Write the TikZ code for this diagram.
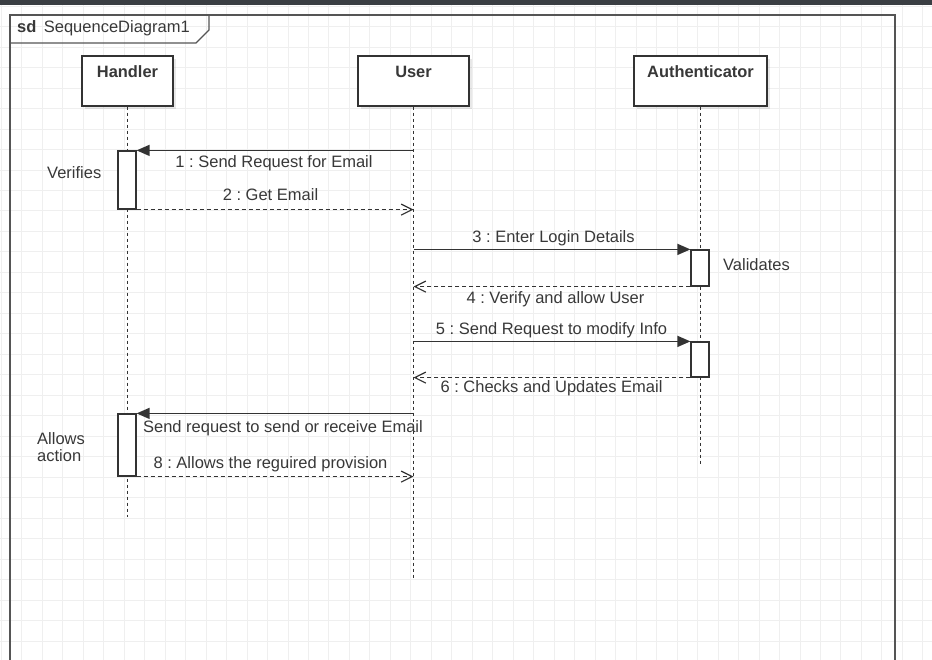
\documentclass[tikz,border=0pt]{standalone}
\usepackage{fontspec}
\setmainfont{Liberation Sans}
\usetikzlibrary{arrows.meta,shadows}
\definecolor{ink}{HTML}{333333}
\definecolor{txt}{HTML}{383838}
\definecolor{gridc}{HTML}{EFEFEF}
\definecolor{band}{HTML}{3A3E43}
\definecolor{framec}{HTML}{555555}
\frenchspacing
\begin{document}
\begin{tikzpicture}[x=1pt,y=-1pt,
  every node/.style={text=txt, font=\fontsize{16.5}{16.5}\selectfont},
  lifebox/.style={draw=ink, fill=white, line width=1.2pt, minimum width=#1, minimum height=50pt, inner sep=0pt,
    drop shadow={shadow xshift=3pt, shadow yshift=-3pt, opacity=0.18}},
  boxlabel/.style={anchor=base, font=\fontsize{16.4}{16.5}\selectfont\bfseries, inner sep=0pt},
  lifeline/.style={draw=ink, line width=1.3pt, dash pattern=on 3pt off 3pt},
  actbox/.style={draw=ink, fill=white, line width=1.2pt, minimum width=18pt, minimum height=#1, inner sep=0pt},
  syncmsg/.style={draw=ink, line width=1.4pt, -{Triangle[length=13pt,width=11pt]}},
  retmsg/.style={draw=ink, line width=1.2pt, dash pattern=on 4pt off 3pt, -{Straight Barb[length=11pt,width=11pt,line width=1.2pt]}},
  msglabel/.style={anchor=base, inner sep=0pt},
  notelabel/.style={anchor=base west, inner sep=0pt, align=left}
]
\useasboundingbox (0,0) rectangle (932,660);
% grid
\foreach \k in {0,...,45} \draw[gridc, line width=1pt] ({1.3+\k*20.48},0) -- ({1.3+\k*20.48},660);
\foreach \k in {0,...,32} \draw[gridc, line width=1pt] (0,{6.2+\k*20.48}) -- (932,{6.2+\k*20.48});
% top band
\fill[band] (0,0) rectangle (932,5);
% frame
\draw[framec, line width=1.5pt] (10,662) -- (10,15) -- (895,15) -- (895,662);
\draw[framec, line width=1.3pt] (10,43) -- (196,43) -- (209,30) -- (209,15);
\node[anchor=base west, inner sep=0pt] (sdlabel) at (17,33) {\textbf{sd}\hspace{0.45em}SequenceDiagram1};
% participant boxes
\node[lifebox=91pt] (handler) at (127.5,81) {};
\node[lifebox=111pt] (user) at (413.5,81) {};
\node[lifebox=133pt] (auth) at (700.5,81) {};
\node[boxlabel] (handlerL) at (127.5,78) {Handler};
\node[boxlabel] (userL) at (413.5,78) {User};
\node[boxlabel] (authL) at (700.5,78) {Authenticator};
% lifelines
\coordinate (hEnd) at (127.5,517);
\coordinate (uEnd) at (413.5,578);
\coordinate (aEnd) at (700.5,465);
\draw[lifeline] (handler.south) -- (hEnd);
\draw[lifeline] (user.south) -- (uEnd);
\draw[lifeline] (auth.south) -- (aEnd);
% labels
\node[msglabel] (l1) at (274,168) {1 : Send Request for Email};
\node[msglabel] (l2) at (270.5,201) {2 : Get Email};
\node[msglabel] (l3) at (553.5,243) {3 : Enter Login Details};
\node[msglabel] (l4) at (555.5,304) {4 : Verify and allow User};
\node[msglabel] (l5) at (551.5,335) {5 : Send Request to modify Info};
\node[msglabel] (l6) at (551.5,392) {6 : Checks and Updates Email};
\node[msglabel] (l7) at (271.5,432) {7 : Send request to send or receive Email};
\node[msglabel] (l8) at (270.5,468) {8 : Allows the reguired provision};
\node[notelabel] (verifies) at (47,179) {Verifies};
\node[notelabel] (validates) at (723,271) {Validates};
\node[notelabel] (allows) at (37,461) {Allows\\action};
% activations
\node[actbox=58pt] (a1) at (127,180) {};
\node[actbox=36pt] (a2) at (700,268) {};
\node[actbox=35pt] (a3) at (700,359.5) {};
\node[actbox=62pt] (a4) at (127,445) {};
% messages
\draw[syncmsg] (a1.north east -| user) -- (a1.north east);
\draw[retmsg] (a1.south east) -- (a1.south east -| user);
\draw[syncmsg] (a2.north west -| user) -- (a2.north west);
\draw[retmsg] (a2.south west) -- (a2.south west -| user);
\draw[syncmsg] (a3.north west -| user) -- (a3.north west);
\draw[retmsg] (a3.south west) -- (a3.south west -| user);
\draw[syncmsg] (a4.north east -| user) -- (a4.north east);
\draw[retmsg] (a4.south east) -- (a4.south east -| user);
\end{tikzpicture}
\end{document}
